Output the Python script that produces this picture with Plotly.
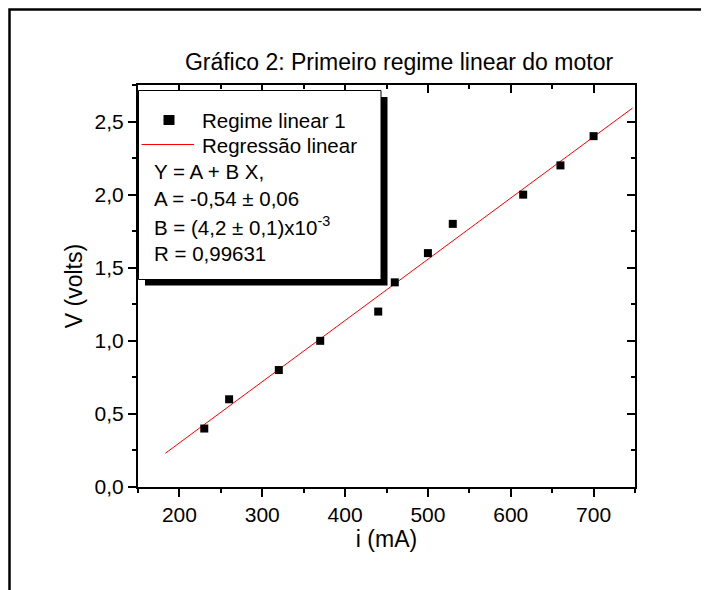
import numpy as np
import plotly.graph_objects as go

# ---- data ----
current_mA = [230, 260, 320, 370, 440, 460, 500, 530, 615, 660, 700]
voltage_V = [0.4, 0.6, 0.8, 1.0, 1.2, 1.4, 1.6, 1.8, 2.0, 2.2, 2.4]
fit_x_span = [183, 747]
x_range = [150, 750]
y_range = [0, 2.75]
x_ticks = [200, 300, 400, 500, 600, 700]
y_ticks = [0.0, 0.5, 1.0, 1.5, 2.0, 2.5]
series_name = "Regime linear 1"
fit_name = "Regressão linear"
fit_text = ["Y = A + B X,",
            "A = -0,54 ± 0,06",
            "B = (4,2 ± 0,1)x10<sup>-3</sup>",
            "R = 0,99631"]

# linear regression of the data
B, A = np.polyfit(current_mA, voltage_V, 1)
fit_x = np.array(fit_x_span, dtype=float)
fit_y = A + B * fit_x

# page body margin of the browser shifts the figure by 8 px
OFF = 8
W, H = 709 - OFF, 590 - OFF
ML, MR, MT, MB = 130, 74, 77, 103
PW, PH = W - ML - MR, H - MT - MB
FONT = "Liberation Sans, Arial, sans-serif"


def px(x):
    """screen x (px) -> paper x"""
    return (x - OFF - ML) / PW


def py(y):
    """screen y (px) -> paper y"""
    return (H - MB - (y - OFF)) / PH


fig = go.Figure()
fig.add_trace(go.Scatter(x=fit_x, y=fit_y, mode="lines", name=fit_name,
                         line=dict(color="#ff0000", width=1), showlegend=False))
fig.add_trace(go.Scatter(x=current_mA, y=voltage_V, mode="markers", name=series_name,
                         marker=dict(symbol="square", size=8, color="black",
                                     line=dict(width=0)),
                         showlegend=False))
# dummy trace for mirrored (top/right) axes
fig.add_trace(go.Scatter(x=[None], y=[None], xaxis="x2", yaxis="y2",
                         showlegend=False, hoverinfo="skip"))

tickfont = dict(family=FONT, size=21, color="black")
common = dict(showline=True, linecolor="black", linewidth=2, showgrid=False,
              zeroline=False, tickcolor="black", tickwidth=1.5, ticklen=8)

fig.update_layout(
    width=W, height=H, autosize=False,
    margin=dict(l=ML, r=MR, t=MT, b=MB),
    paper_bgcolor="white", plot_bgcolor="white",
    separators=",.",
    font=dict(family=FONT, color="black"),
    title=dict(text="Gráfico 2: Primeiro regime linear do motor",
               font=dict(family=FONT, size=23, color="black"),
               xref="paper", x=px(399), xanchor="center",
               yref="container", y=1 - (62 - OFF) / H, yanchor="middle"),
    xaxis=dict(range=x_range, tickvals=x_ticks, ticks="outside", tickfont=tickfont,
               minor=dict(dtick=50, ticks="outside", ticklen=4, tickwidth=1.5,
                          tickcolor="black"),
               title=dict(text="i (mA)", font=dict(family=FONT, size=23),
                          standoff=5),
               **common),
    yaxis=dict(range=y_range, tickvals=y_ticks, tickformat=".1f", ticks="outside",
               tickfont=tickfont,
               minor=dict(dtick=0.25, ticks="outside", ticklen=4, tickwidth=1.5,
                          tickcolor="black"),
               title=dict(text="V (volts)", font=dict(family=FONT, size=23),
                          standoff=6),
               **common),
    xaxis2=dict(range=x_range, overlaying="x", side="top", anchor="y",
                tickvals=x_ticks, ticks="inside", showticklabels=False,
                minor=dict(dtick=50, ticks="inside", ticklen=4, tickwidth=1.5,
                           tickcolor="black"),
                **common),
    yaxis2=dict(range=y_range, overlaying="y", side="right", anchor="x",
                tickvals=y_ticks, ticks="inside", showticklabels=False,
                minor=dict(dtick=0.25, ticks="inside", ticklen=4, tickwidth=1.5,
                           tickcolor="black"),
                **common),
)

shapes = []
# outer frame
shapes.append(dict(type="rect", xref="paper", yref="paper",
                   x0=px(9.5), x1=px(730), y0=py(620), y1=py(9.5),
                   line=dict(color="black", width=2.5), fillcolor="rgba(0,0,0,0)",
                   layer="above"))
# legend shadow
shapes.append(dict(type="rect", xref="paper", yref="paper",
                   x0=px(145), x1=px(387.5), y0=py(285.5), y1=py(97),
                   line=dict(width=0), fillcolor="black", layer="above"))
# legend box
shapes.append(dict(type="rect", xref="paper", yref="paper",
                   x0=px(138.5), x1=px(381), y0=py(279.5), y1=py(90.5),
                   line=dict(color="black", width=1), fillcolor="white",
                   layer="above"))
# legend symbol: square marker
shapes.append(dict(type="rect", xref="paper", yref="paper",
                   x0=px(163.5), x1=px(174.5), y0=py(125), y1=py(115),
                   line=dict(width=0), fillcolor="black", layer="above"))
# legend symbol: red line
shapes.append(dict(type="line", xref="paper", yref="paper",
                   x0=px(141.5), x1=px(194), y0=py(144.5), y1=py(144.5),
                   line=dict(color="#ff0000", width=1), layer="above"))
fig.update_layout(shapes=shapes)

lfont = dict(family=FONT, size=20.5, color="black")
ann = []
ann.append(dict(text=series_name, x=px(200), y=py(120), xref="paper", yref="paper",
                xanchor="left", yanchor="middle", showarrow=False, font=lfont))
ann.append(dict(text=fit_name, x=px(200), y=py(145.5), xref="paper", yref="paper",
                xanchor="left", yanchor="middle", showarrow=False, font=lfont))
line_y = [171, 198, 226, 253]
for t, yy in zip(fit_text, line_y):
    ann.append(dict(text=t, x=px(152), y=py(yy), xref="paper", yref="paper",
                    xanchor="left", yanchor="middle", showarrow=False, font=lfont))
fig.update_layout(annotations=ann)

fig.write_html("out.html")
